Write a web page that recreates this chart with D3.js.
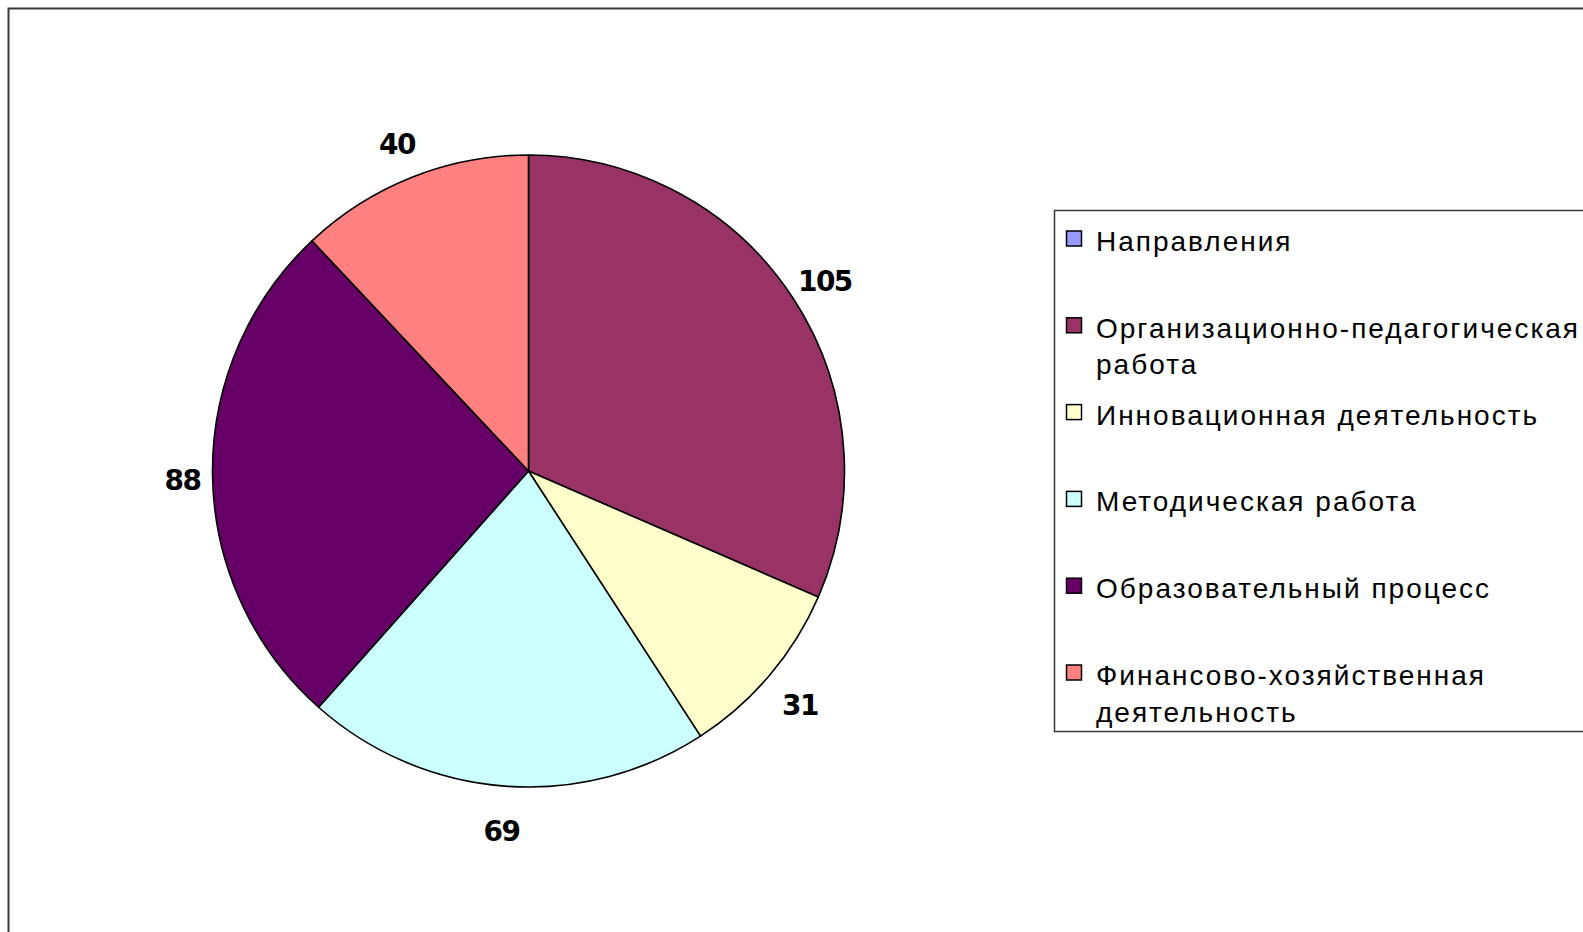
<!DOCTYPE html>
<html>
<head>
<meta charset="utf-8">
<script src="https://cdn.jsdelivr.net/npm/d3@7"></script>
<style>
  html, body { margin: 0; padding: 0; background: #fff; overflow: hidden; }
  svg { display: block; }
</style>
</head>
<body>
<svg id="chart" width="1583" height="932"></svg>
<script>
// Work directions and the number of activities in each
const categories = [
  "Направления",
  "Организационно-педагогическая работа",
  "Инновационная деятельность",
  "Методическая работа",
  "Образовательный процесс",
  "Финансово-хозяйственная деятельность"
];
const values = [0, 105, 31, 69, 88, 40];
const colors = ["#9999FF", "#993366", "#FFFFCC", "#CCFFFF", "#660066", "#FF8080"];
// Legend lines (long names wrap onto two lines)
const legendLines = [
  ["Направления"],
  ["Организационно-педагогическая", "работа"],
  ["Инновационная деятельность"],
  ["Методическая работа"],
  ["Образовательный процесс"],
  ["Финансово-хозяйственная", "деятельность"]
];

const svg = d3.select("#chart");
const W = 1583, H = 932;

// outer chart frame (runs off the right and bottom edges)
svg.append("rect")
  .attr("x", 8.5).attr("y", 8.5)
  .attr("width", W + 20).attr("height", H + 20)
  .attr("fill", "#fff")
  .attr("stroke", "#3a3a3a")
  .attr("stroke-width", 2);

// pie
const cx = 528.5, cy = 471, r = 316;
const data = categories.map((c, i) => ({ name: c, value: values[i], color: colors[i] }));
const pie = d3.pie().value(d => d.value).sort(null);
const arcs = pie(data);
const arc = d3.arc().innerRadius(0).outerRadius(r);

// value labels sit outside the rim; side labels are pulled in a little
function labelPos(d) {
  const a = (d.startAngle + d.endAngle) / 2;
  const s = Math.sin(a);
  const lr = r + 41 - 11 * Math.pow(s, 8);
  return [lr * s, -lr * Math.cos(a) + 5];
}

const g = svg.append("g").attr("transform", `translate(${cx},${cy})`);
g.selectAll("path.slice")
  .data(arcs.filter(d => d.data.value > 0))
  .join("path")
  .attr("class", "slice")
  .attr("d", arc)
  .attr("fill", d => d.data.color)
  .attr("stroke", "#000")
  .attr("stroke-width", 1.6)
  .attr("stroke-linejoin", "round");

g.selectAll("text.val")
  .data(arcs.filter(d => d.data.value > 0))
  .join("text")
  .attr("class", "val")
  .attr("transform", d => `translate(${labelPos(d)})`)
  .attr("text-anchor", "middle")
  .attr("dominant-baseline", "central")
  .attr("font-family", "DejaVu Sans, Verdana, sans-serif")
  .attr("font-weight", "bold")
  .attr("font-size", 28)
  .attr("letter-spacing", -1.5)
  .attr("fill", "#000")
  .text(d => d.data.value);

// legend
const lx = 1054.5, ly = 210.5;
svg.append("rect")
  .attr("x", lx).attr("y", ly)
  .attr("width", W - lx + 20).attr("height", 521)
  .attr("fill", "#fff")
  .attr("stroke", "#3a3a3a")
  .attr("stroke-width", 1.5);

const step = 86.8, firstBase = 251, lineH = 36.5;
const items = svg.append("g").selectAll("g")
  .data(data)
  .join("g")
  .attr("transform", (d, i) => `translate(0,${firstBase + i * step})`);

items.append("rect")
  .attr("x", 1066.5).attr("y", -20)
  .attr("width", 15).attr("height", 15)
  .attr("fill", d => d.color)
  .attr("stroke", "#000")
  .attr("stroke-width", 1.5);

const legendFont = "'Liberation Sans', Arial, sans-serif";
const legendSize = 28;
const txt = items.append("text")
  .attr("x", 1096)
  .attr("font-family", legendFont)
  .attr("font-size", legendSize)
  .attr("fill", "#000");

txt.selectAll("tspan")
  .data((d, i) => legendLines[i])
  .join("tspan")
  .attr("x", 1096)
  .attr("dy", (d, j) => j === 0 ? 0 : lineH)
  .text(d => d);

// widen spacing so the longest legend line spans its measured width
const probe = svg.append("text")
  .attr("font-family", legendFont)
  .attr("font-size", legendSize)
  .text(legendLines[1][0]);
const natural = probe.node().getComputedTextLength();
probe.remove();
const target = 482;
const ls = Math.max(0, (target - natural) / (legendLines[1][0].length - 1));
txt.attr("letter-spacing", ls);
</script>
</body>
</html>
